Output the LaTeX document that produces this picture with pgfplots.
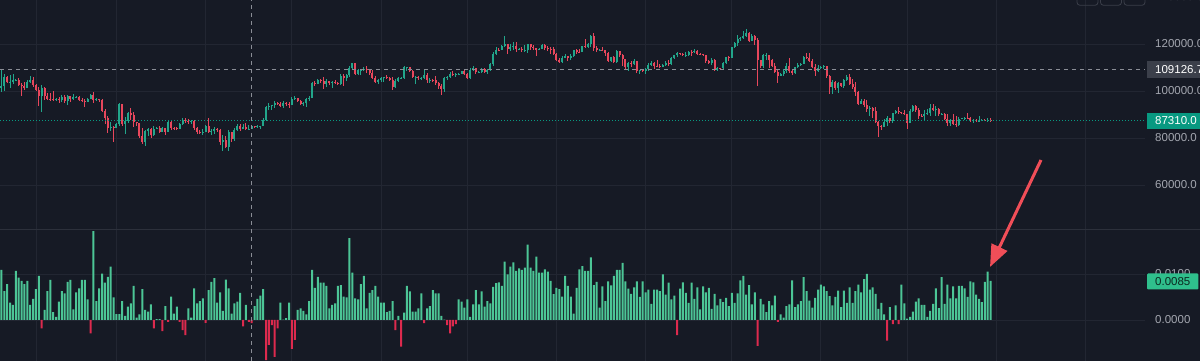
\documentclass[border=0pt]{standalone}
\usepackage{fontspec}
\setmainfont{Liberation Sans}
\usepackage{pgfplots}
\pgfplotsset{compat=1.18}
\usepackage{pgfplotstable}
\usetikzlibrary{arrows.meta}
\definecolor{bg}{HTML}{161A25}
\definecolor{gridc}{HTML}{222632}
\definecolor{sepc}{HTML}{2C303B}
\definecolor{cgreen}{HTML}{22A68B}
\definecolor{cred}{HTML}{E8475C}
\definecolor{hgreen}{HTML}{4CC596}
\definecolor{hred}{HTML}{DD2A4E}
\definecolor{lab}{HTML}{A3A6AF}
\definecolor{xhair}{HTML}{8A8D96}
\definecolor{lastc}{HTML}{089981}
\definecolor{boxgray}{HTML}{3B3F4A}
\definecolor{fundbox}{HTML}{2FBF8C}
\definecolor{funtext}{HTML}{0B2A20}
\definecolor{btn}{HTML}{3A3E49}
\definecolor{arrowc}{HTML}{F04E58}

\pgfplotstableread{
d o h l c f
0 101300 109100 99500 102200 0.0109
1 102200 107200 100100 106100 0.0063
2 106100 106300 103300 103700 0.0078
3 103700 106800 101200 104000 0.0038
4 104000 107100 102800 104700 0.0033
5 104700 105300 104100 104800 0.0107
6 104800 105500 102500 102600 0.0092
7 102600 103200 97800 102100 0.0085
8 102100 103800 100300 101300 0.0078
9 101300 104800 101300 103700 0.0085
10 103700 106400 103400 104700 0.0033
11 104700 106000 101600 102400 0.0046
12 102400 102800 100300 100600 0.0067
13 100600 101500 93700 97700 0.0096
14 97700 102500 91200 101400 -0.0018
15 101400 101700 96200 97900 0.0022
16 97900 99200 96200 96600 0.0063
17 96600 99000 95700 96500 0.0087
18 96500 100100 95700 96450 0.0017
19 96450 96900 95700 96550 0.0007
20 96550 97300 94700 96100 0.0040
21 96100 98300 95300 97400 0.0063
22 97400 98500 94900 95700 0.0058
23 95700 98100 94100 97800 0.0083
24 97800 98000 95300 96600 0.0087
25 96600 98800 96300 97500 0.0023
26 97500 97900 97300 97600 0.0060
27 97600 97700 96000 96100 0.0069
28 96100 97000 95200 95800 0.0087
29 95800 96700 93400 95500 0.0087
30 95500 97000 95200 96600 0.0045
31 96600 98800 96400 98300 -0.0029
32 98300 99500 94900 96100 0.0193
33 96100 96900 95800 96600 0.0041
34 96600 96700 95300 96100 0.0069
35 96100 96500 91300 91500 0.0101
36 91500 92500 86100 88700 0.0081
37 88700 89300 82300 84300 0.0094
38 84300 87000 82800 84700 0.0116
39 84700 85100 78200 84400 0.0049
40 84400 86500 84300 86000 0.0013
41 86000 95000 85100 94300 0.0013
42 94300 94400 85100 86100 0.0041
43 86100 88900 81500 87300 0.0009
44 87300 91000 86300 90600 0.0029
45 90600 92800 87800 89900 0.0036
46 89900 91200 84700 86800 0.0074
47 86800 86900 85300 86200 0.0005
48 86200 86500 80000 80700 0.0012
49 80700 84100 77500 78500 0.0067
50 78500 83600 76600 82900 0.0022
51 82900 84400 80700 83700 0.0018
52 83700 84300 79900 81100 0.0034
53 81100 85300 80800 83900 -0.0018
54 83900 84700 83700 84300 0.0002
55 84300 85100 82000 82600 0.0002
56 82600 84700 82500 84100 -0.0024
57 84100 84100 81200 82700 0.0030
58 82700 87400 82600 86800 -0.0004
59 86800 87400 83600 84200 0.0051
60 84200 84800 83200 84100 0.0014
61 84100 84500 83700 83800 0.0029
62 83800 86200 83700 86100 -0.0004
63 86100 88700 85600 87500 -0.0022
64 87500 88500 86300 87400 -0.0033
65 87400 88200 85900 86900 0.0025
66 86900 87800 85800 87200 0.0005
67 87200 87500 83600 84400 0.0069
68 84400 84600 81700 82600 0.0036
69 82600 83500 81600 82400 0.0041
70 82400 83900 81300 82500 0.0047
71 82500 85500 82400 85200 -0.0006
72 85200 88500 82300 82500 0.0065
73 82500 83900 81200 83100 0.0083
74 83100 84700 81700 83900 0.0091
75 83900 84200 82400 83500 0.0038
76 83500 83700 77200 78400 0.0060
77 78400 81200 74500 79100 0.0020
78 79100 80800 76200 76300 0.0088
79 76300 83500 74600 82600 0.0069
80 82600 82700 78500 79600 0.0014
81 79600 84200 78900 83400 0.0036
82 83400 85800 82800 85300 0.0040
83 85300 86100 82900 83700 0.0059
84 83700 85800 83700 84500 -0.0014
85 84500 86400 83600 83650 0.0033
86 83650 85500 83200 84000 -0.0004
87 84000 85400 83800 84900 -0.0007
88 84900 85100 84300 84500 0.0030
89 84500 85600 84300 85100 0.0046
90 85100 85300 83900 85200 0.0053
91 85200 88500 85100 87500 0.0067
92 87500 93800 87100 93400 -0.0087
93 93400 94700 91900 93700 -0.0054
94 93700 94000 91700 93900 -0.0011
95 93900 95700 92800 94700 -0.0080
96 94700 95300 93900 94600 -0.0018
97 94600 95200 93100 93800 0.0038
98 93800 95600 92900 95000 0.0001
99 95000 95500 93800 94300 0.0004
100 94300 95200 92900 94200 0.0038
101 94200 97400 94100 96500 -0.0063
102 96500 97900 96300 96900 -0.0043
103 96900 96900 95600 95900 0.0022
104 95900 96300 94100 94300 0.0025
105 94300 95200 93500 94800 0.0020
106 94800 96900 93400 96800 0.0012
107 96800 97700 95800 97000 0.0041
108 97000 104000 96900 103200 0.0109
109 103200 104300 102300 102900 0.0070
110 102900 104900 102800 104600 0.0094
111 104600 104900 103300 104100 0.0081
112 104100 105800 100800 102800 0.0081
113 102800 104900 101500 104200 0.0074
114 104200 104300 102600 103500 0.0025
115 103500 104200 101400 103700 0.0033
116 103700 104600 103100 103500 0.0036
117 103500 103700 102600 103100 0.0074
118 103100 107100 102600 106500 0.0076
119 106500 107100 102100 105600 0.0051
120 105600 107300 104200 106800 0.0049
121 106800 110800 106100 109700 0.0178
122 109700 111900 109300 111700 0.0103
123 111700 111800 106800 107300 0.0047
124 107300 109500 106900 108900 0.0045
125 108900 109300 106700 109000 0.0078
126 109000 110400 108700 109400 0.0096
127 109400 110700 107500 108900 0.0025
128 108900 109300 106800 107800 0.0059
129 107800 108900 105400 105600 0.0065
130 105600 106300 103700 103900 0.0074
131 103900 104900 103100 104600 0.0051
132 104600 105900 103900 105700 0.0038
133 105700 105900 103700 105800 0.0038
134 105800 106800 105000 105400 0.0017
135 105400 106000 104200 104700 0.0020
136 104700 105900 100400 101500 0.0041
137 101500 105100 101100 104300 -0.0022
138 104300 105900 103900 105600 0.0009
139 105600 106100 105100 105700 -0.0058
140 105700 110600 105300 110200 0.0016
141 110200 110400 108400 110250 0.0074
142 110250 110400 108100 108600 0.0062
143 108600 108800 105700 105900 0.0018
144 105900 106200 102800 106000 0.0018
145 106000 106200 104500 105400 0.0025
146 105400 106000 104500 105500 0.0058
147 105500 108900 104900 106800 -0.0007
148 106800 107700 103400 104500 0.0025
149 104500 105500 103600 104800 0.0030
150 104800 105200 103900 104600 0.0065
151 104600 106500 102500 103300 0.0058
152 103300 104000 101000 102100 0.0058
153 102100 103000 98200 100900 0.0009
154 100900 106000 99600 105400 0.0001
155 105400 106300 104600 105900 -0.0011
156 105900 108100 105600 107300 -0.0029
157 107300 108300 106700 106900 -0.0014
158 106900 107700 106100 107100 -0.0009
159 107100 107600 106800 107300 0.0045
160 107300 108500 107200 108300 0.0040
161 108300 108800 106700 107100 0.0027
162 107100 107500 105300 105700 0.0045
163 105700 109800 105200 108800 0.0007
164 108800 110500 108600 109600 0.0034
165 109600 109700 107300 108000 0.0065
166 108000 108400 107800 108200 0.0034
167 108200 109700 107800 109200 0.0062
168 109200 109700 107500 108200 0.0029
169 108200 109200 107400 108900 0.0041
170 108900 111900 108400 111300 0.0036
171 111300 116800 110600 115900 0.0072
172 115900 118800 115300 117500 0.0080
173 117500 118200 116900 117400 0.0082
174 117400 119400 117300 119100 0.0074
175 119100 123200 118900 119800 0.0127
176 119800 119900 115700 117700 0.0099
177 117700 120000 116900 118600 0.0116
178 118600 120700 117600 119200 0.0125
179 119200 120900 116800 117900 0.0107
180 117900 118500 117300 117950 0.0112
181 117950 118900 116500 117300 0.0109
182 117300 119700 116500 117400 0.0114
183 117400 120200 116200 120000 0.0164
184 120000 120100 117300 118700 0.0114
185 118700 119500 117500 118300 0.0107
186 118300 118400 114700 117600 0.0138
187 117600 118300 117300 117900 0.0103
188 117900 119800 117800 119400 0.0103
189 119400 119800 117500 118100 0.0110
190 118100 119300 116900 117900 0.0105
191 117900 118800 115800 117800 0.0085
192 117800 118900 115600 115800 0.0056
193 115800 116100 112700 113300 0.0070
194 113300 114000 112000 112500 0.0067
195 112500 114800 111900 114200 0.0051
196 114200 115700 114100 115100 0.0096
197 115100 115100 112700 114100 0.0074
198 114100 115700 113400 115000 0.0051
199 115000 117600 114300 117500 0.0014
200 117500 117700 115900 116700 0.0070
201 116700 117900 116300 116500 0.0110
202 116500 119300 116400 119250 0.0117
203 119250 122300 118100 118700 0.0107
204 118700 120300 118200 120200 0.0107
205 120200 123700 118900 123300 0.0136
206 123300 124500 117200 118300 0.0076
207 118300 119200 116800 117400 0.0083
208 117400 117900 117200 117500 0.0027
209 117500 118600 117300 117450 0.0073
210 117450 117600 114700 116300 0.0041
211 116300 116800 112700 112900 0.0084
212 112900 114600 112400 114300 0.0075
213 114300 114800 112300 112500 0.0096
214 112500 117400 111700 116900 0.0109
215 116900 117000 114600 115400 0.0109
216 115400 115600 110800 113500 0.0124
217 113500 113700 109300 110100 0.0084
218 110100 112400 108700 111800 0.0068
219 111800 112600 110300 111300 0.0057
220 111300 113500 110900 112600 0.0071
221 112600 112700 107500 108400 0.0084
222 108400 108900 107400 108800 0.0050
223 108800 109500 108100 108300 0.0084
224 108300 109900 107300 109300 0.0060
225 109300 111800 108400 111200 0.0066
226 111200 112600 110500 111700 0.0035
227 111700 112200 109400 110700 0.0066
228 110700 113400 110200 110650 0.0066
229 110650 111300 110000 110200 0.0063
230 110200 111500 110100 111200 0.0099
231 111200 112600 110600 112100 0.0055
232 112100 113200 110800 111500 0.0081
233 111500 114300 110900 113900 0.0045
234 113900 115500 113500 115450 0.0053
235 115450 116700 114300 116100 -0.0033
236 116100 116300 115200 115900 0.0068
237 115900 116000 114800 115300 0.0082
238 115300 116700 114500 115400 0.0059
239 115400 117000 114800 116800 0.0037
240 116800 117300 114800 116500 0.0081
241 116500 117900 116300 117100 0.0046
242 117100 117500 115200 115700 0.0071
243 115700 116100 115500 115650 0.0023
244 115650 115900 115200 115300 0.0073
245 115300 115400 112000 112700 0.0060
246 112700 113300 111500 112000 0.0070
247 112000 113900 111100 113300 0.0024
248 113300 113500 108700 109000 0.0057
249 109000 110300 108600 109700 0.0032
250 109700 109800 109100 109650 0.0046
251 109650 112400 109200 112100 0.0039
252 112100 114500 111600 114400 0.0048
253 114400 114800 112700 114100 0.0030
254 114100 118600 113900 118550 0.0059
255 118550 121000 118300 120500 0.0037
256 120500 123900 119300 122200 0.0058
257 122200 122900 121400 122400 0.0086
258 122400 125500 122200 123500 0.0096
259 123500 126200 123100 124700 0.0055
260 124700 125100 120700 121400 0.0076
261 121400 124100 121100 123300 0.0034
262 123300 123700 119600 121700 0.0060
263 121700 122500 102000 113200 -0.0056
264 113200 113400 109600 110600 0.0046
265 110600 115700 109700 115200 0.0034
266 115200 116000 113000 115300 0.0017
267 115300 115400 109900 113000 0.0041
268 113000 113600 110200 110700 0.0032
269 110700 111900 107600 108200 0.0053
270 108200 109200 103500 106500 -0.0004
271 106500 107500 106400 107200 0.0012
272 107200 109400 106200 108600 0.0005
273 108600 111700 107500 110600 0.0030
274 110600 114000 107500 108400 0.0034
275 108400 109100 106700 107600 0.0086
276 107600 110400 107300 110100 0.0028
277 110100 112000 109700 111000 0.0034
278 111000 111900 110700 111600 0.0041
279 111600 115000 111300 114500 0.0093
280 114500 116100 113800 114100 0.0063
281 114100 116000 112200 112900 0.0042
282 112900 113600 109700 110000 0.0027
283 110000 111600 106300 108300 0.0048
284 108300 111100 108200 109600 0.0066
285 109600 110600 109400 110100 0.0077
286 110100 111200 109500 110600 0.0073
287 110600 110800 105400 106500 0.0063
288 106500 106600 98900 101600 0.0052
289 101600 104500 98900 103900 0.0032
290 103900 104200 100300 101300 0.0050
291 101300 104000 99300 103300 0.0064
292 103300 103400 101500 102300 0.0028
293 102300 105000 101400 104700 0.0064
294 104700 106600 104300 106000 0.0037
295 106000 107400 102600 103000 0.0071
296 103000 105300 100800 101600 0.0037
297 101600 104000 98000 99700 0.0063
298 99700 99800 94000 94500 0.0077
299 94500 96800 94500 95600 0.0060
300 95600 96600 93000 94200 0.0089
301 94200 96000 91200 92200 0.0100
302 92200 93800 89300 92900 0.0066
303 92900 93100 88600 91500 0.0071
304 91500 93100 86300 86600 0.0057
305 86600 87400 80600 85100 0.0024
306 85100 85600 83500 84700 0.0037
307 84700 88000 84500 86800 0.0012
308 86800 89200 85300 88300 -0.0045
309 88300 88500 86200 87300 0.0028
310 87300 90600 86400 90500 -0.0009
311 90500 91900 90100 91300 0.0032
312 91300 93100 90200 90900 -0.0009
313 90900 91200 90300 90800 0.0077
314 90800 92000 90400 90350 0.0036
315 90350 90400 83800 86300 0.0003
316 86300 92300 86200 91300 0.0007
317 91300 94100 91000 93500 0.0018
318 93500 94000 91100 92100 0.0040
319 92100 92700 88100 89300 0.0047
320 89300 90300 88900 89200 0.0033
321 89200 91800 87700 90400 0.0033
322 90400 92300 89600 90600 0.0007
323 90600 94600 89500 92700 0.0020
324 92700 94400 91600 92000 0.0035
325 92000 93500 89300 92500 0.0069
326 92500 92800 89500 90200 0.0026
327 90200 90600 89800 90250 0.0093
328 90250 90500 87600 88200 0.0035
329 88200 90000 85300 86400 0.0077
330 86400 88100 85300 87800 0.0047
331 87800 90300 85500 86100 0.0073
332 86100 89400 84500 85500 0.0047
333 85500 88800 85100 88100 0.0074
334 88100 88500 87900 88300 0.0074
335 88300 89100 87600 88600 0.0069
336 88600 90500 87900 88500 0.0050
337 88500 88900 86600 87500 0.0084
338 87500 87900 86400 87600 0.0082
339 87600 88100 86900 87200 0.0055
340 87200 89400 86700 87400 0.0046
341 87400 88000 87200 87800 0.0039
342 87800 88100 87400 87700 0.0083
343 87700 88600 86900 87800 0.0105
344 87800 88300 87100 87310 0.0085
}\data

\pgfplotsset{
  paneaxis/.style={
    scale only axis, width=1145pt,
    xmin=-0.52, xmax=397.74,
    axis line style={draw=none}, tick style={draw=none},
    xtick={12,40,71,101,132,162,193,224,254,285,315,346,377},
    xticklabels={},
    grid=major, major grid style={draw=gridc, line width=0.8pt},
    yticklabel pos=right,
    yticklabel style={anchor=west, inner sep=0pt, xshift=10pt,
      font=\fontsize{11.5}{13}\selectfont, text=lab,
      /pgf/number format/fixed, /pgf/number format/zerofill,
      /pgf/number format/1000 sep={},
      /pgf/number format/assume math mode=true},
    scaled y ticks=false,
  }
}

\begin{document}
\begin{tikzpicture}[x=1pt,y=1pt]
\fill[bg] (0,0) rectangle (1200,361);
\begin{scope}
\clip (0,0) rectangle (1200,361);

% price pane
\begin{axis}[paneaxis, anchor=north west, at={(0pt,361pt)}, height=230pt,
  ymin=40851, ymax=138723, ytick={60000,80000,100000,120000},
  yticklabel style={/pgf/number format/precision=1}]
% green wicks
\addplot[draw=none, mark=none, forget plot,
  error bars/.cd, y dir=both, y explicit, error mark=none,
  error bar style={draw=cgreen, solid, line width=0.9pt}]
  table[x=d, y expr={\thisrow{c}>=\thisrow{o} ? \thisrow{c} : nan},
        y error plus expr={\thisrow{h}-\thisrow{c}},
        y error minus expr={\thisrow{c}-\thisrow{l}}] {\data};
% red wicks
\addplot[draw=none, mark=none, forget plot,
  error bars/.cd, y dir=both, y explicit, error mark=none,
  error bar style={draw=cred, solid, line width=0.9pt}]
  table[x=d, y expr={\thisrow{c}<\thisrow{o} ? \thisrow{c} : nan},
        y error plus expr={\thisrow{h}-\thisrow{c}},
        y error minus expr={\thisrow{c}-\thisrow{l}}] {\data};
% green bodies
\addplot[draw=none, mark=none, forget plot,
  error bars/.cd, y dir=plus, y explicit, error mark=none,
  error bar style={draw=cgreen, solid, line width=2pt}]
  table[x=d, y expr={\thisrow{c}>=\thisrow{o} ? \thisrow{o} : nan},
        y error plus expr={\thisrow{c}-\thisrow{o}}] {\data};
% red bodies
\addplot[draw=none, mark=none, forget plot,
  error bars/.cd, y dir=plus, y explicit, error mark=none,
  error bar style={draw=cred, solid, line width=2pt}]
  table[x=d, y expr={\thisrow{c}<\thisrow{o} ? \thisrow{c} : nan},
        y error plus expr={\thisrow{o}-\thisrow{c}}] {\data};
% crosshair and last price lines
\draw[xhair, line width=0.8pt, dash pattern=on 4pt off 4pt]
  (axis cs:-0.52,109126.7) -- (axis cs:397.74,109126.7);
\draw[lastc, line width=0.8pt, dash pattern=on 1pt off 2pt]
  (axis cs:-0.52,87310) -- (axis cs:397.74,87310);
\end{axis}

% funding pane
\begin{axis}[paneaxis, anchor=south west, at={(0pt,0pt)}, height=131pt,
  ymin=-0.008913, ymax=0.019565, ytick={0,0.01},
  yticklabel style={/pgf/number format/precision=4}]
\addplot[ybar, bar width=2pt, bar shift=0pt, fill=hgreen, draw=none]
  table[x=d, y expr={\thisrow{f}>=0 ? \thisrow{f} : nan}] {\data};
\addplot[ybar, bar width=2pt, bar shift=0pt, fill=hred, draw=none]
  table[x=d, y expr={\thisrow{f}<0 ? \thisrow{f} : nan}] {\data};
\end{axis}

% pane separator
\draw[sepc, line width=1pt] (0,131) -- (1200,131);
% vertical crosshair
\draw[xhair, line width=0.8pt, dash pattern=on 4pt off 4pt] (251,0) -- (251,361);

% price scale extras
\node[anchor=west, inner sep=0pt, text=lab, font=\fontsize{11.5}{13}\selectfont] at (1155,364) {140000.0};
\node[anchor=west, fill=boxgray, text=white, inner xsep=8pt, inner ysep=0pt,
  minimum height=17pt, font=\fontsize{11.5}{13}\selectfont] at (1147,291.4) {109126.7};
\node[anchor=west, fill=lastc, text=white, inner xsep=8pt, inner ysep=0pt,
  minimum height=16pt, font=\fontsize{11.5}{13}\selectfont] at (1147,240.2) {87310.0};
\node[anchor=west, fill=fundbox, text=funtext, inner xsep=8pt, inner ysep=0pt,
  minimum height=16pt, font=\fontsize{11.5}{13}\selectfont, rounded corners=1pt] at (1147,79.5) {0.0085};

% toolbar buttons at top right
\draw[btn, line width=0.8pt, rounded corners=3pt] (1077,355.7) rectangle (1098,372);
\draw[btn, line width=0.8pt, rounded corners=3pt] (1100.5,355.7) rectangle (1121.5,372);
\draw[btn, line width=0.8pt, rounded corners=3pt] (1124,355.7) rectangle (1145,372);

% annotation arrow
\draw[arrowc, line width=3pt, -{Triangle[length=22pt, width=17pt]}] (1041,201) -- (990,94);
\end{scope}
\pgfresetboundingbox
\useasboundingbox (0,0) rectangle (1200,361);
\end{tikzpicture}
\end{document}
